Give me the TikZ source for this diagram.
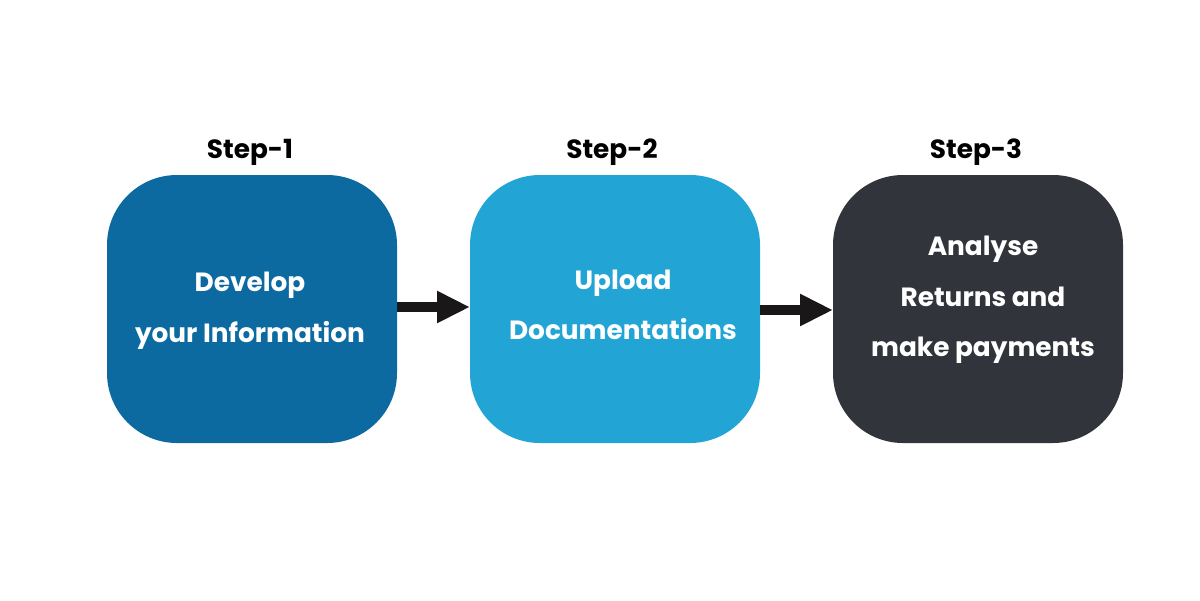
\documentclass[tikz,border=0pt]{standalone}
\usepackage{fontspec}
\setmainfont{Poppins}
\usetikzlibrary{arrows.meta}
\definecolor{stepblue}{HTML}{0C6AA1}
\definecolor{stepcyan}{HTML}{22A5D5}
\definecolor{stepdark}{HTML}{31353B}
\definecolor{arrowink}{HTML}{1A1718}
\begin{document}
\begin{tikzpicture}[x=0.02cm,y=-0.02cm,
  stepbox/.style={rounded corners=1.4cm, inner sep=0pt},
  boxtext/.style={text=white, font=\fontsize{15}{28.8}\selectfont\bfseries, align=center},
  steplabel/.style={text=black, font=\fontsize{15}{18}\selectfont\bfseries},
  flow/.style={line width=0.2cm, draw=arrowink, -{Triangle[length=0.66cm,width=0.6cm]}, shorten >=0pt}]
\useasboundingbox (0,0) rectangle (1200,600);
% step boxes
\fill[stepblue, stepbox] (107,175) rectangle (397,443);
\fill[stepcyan, stepbox] (470,175) rectangle (760,443);
\fill[stepdark, stepbox] (833,175) rectangle (1123,443);
\coordinate (b1e) at (397,307);
\coordinate (b2w) at (470,307);
\coordinate (b2e) at (760,310);
\coordinate (b3w) at (833,310);
% headings
\node[steplabel] (s1) at (250,152) {Step-1};
\node[steplabel] (s2) at (612,152) {Step-2};
\node[steplabel] (s3) at (976,152) {Step-3};
% box texts
\node[boxtext] (t1) at (250,311) {Develop\\your Information};
\node[boxtext] (t2) at (623,305) {Upload\\Documentations};
\node[boxtext] (t3) at (983,300) {Analyse\\Returns and\\make payments};
% connectors
\draw[flow] (b1e) -- (b2w);
\draw[flow] (b2e) -- (b3w);
\end{tikzpicture}
\end{document}
